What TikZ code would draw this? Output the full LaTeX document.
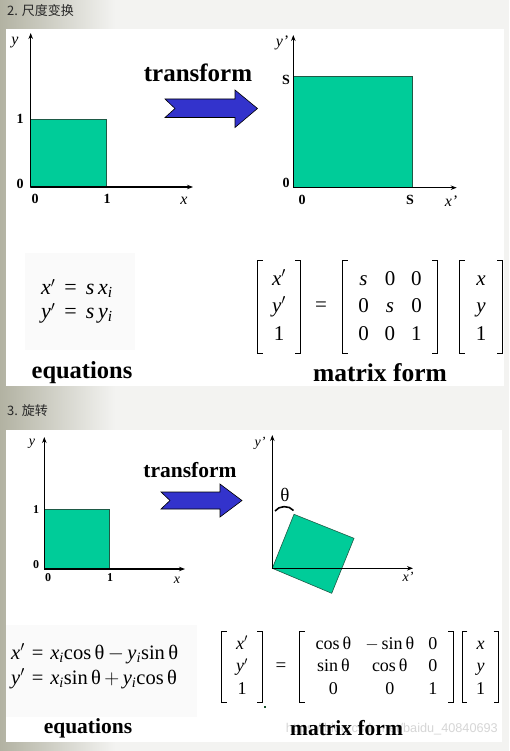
\documentclass[tikz,border=0pt]{standalone}
\usepackage{fontspec}
\setmainfont{Liberation Serif}
\newfontfamily\cjk{Noto Sans CJK SC}
\newfontfamily\wmfont{Liberation Sans}
\usetikzlibrary{arrows.meta}

\definecolor{pagebg}{RGB}{243,243,241}
\definecolor{stripcol}{RGB}{178,178,162}
\definecolor{boxbg}{RGB}{250,250,250}
\definecolor{sqfill}{RGB}{0,204,153}
\definecolor{sqline}{RGB}{30,90,70}
\definecolor{arrfill}{RGB}{51,51,204}
\definecolor{headcol}{RGB}{40,40,40}
\definecolor{wmcol}{RGB}{214,214,214}
\definecolor{dotcol}{RGB}{20,80,40}

\newcommand{\fs}[2]{\fontsize{#1}{#2}\selectfont}
\newcommand{\brackets}[1]{%
  \draw[brk] ([xshift=5pt]#1.north west) -- (#1.north west) -- (#1.south west) -- ([xshift=5pt]#1.south west);
  \draw[brk] ([xshift=-5pt]#1.north east) -- (#1.north east) -- (#1.south east) -- ([xshift=-5pt]#1.south east);}

\tikzset{
  axis/.style={line width=1.3pt, -{Stealth[length=6pt,width=4.5pt]}},
  unitsq/.style={fill=sqfill, draw=sqline, line width=0.6pt},
  bigarrow/.style={fill=arrfill, draw=black, line width=0.6pt},
  brk/.style={line width=0.7pt},
  ttl/.style={font=\cjk\fs{13}{15}, text=headcol, anchor=west, inner sep=0pt},
  numA/.style={font=\fs{14}{16}\bfseries, inner sep=0pt},
  varA/.style={font=\fs{16}{18}\itshape, inner sep=0pt},
  numB/.style={font=\fs{12}{14}\bfseries, inner sep=0pt},
  varB/.style={font=\fs{14}{16}\itshape, inner sep=0pt},
  caption/.style={font=\fs{24.5}{26}\bfseries, inner sep=0pt},
  captionB/.style={font=\fs{21.5}{24}\bfseries, inner sep=0pt},
  mA/.style={font=\fs{21}{27.5}, inner sep=0pt, minimum height=92},
  mB/.style={font=\fs{18}{22.5}, inner sep=0pt, minimum height=70}
}

\begin{document}
\begin{tikzpicture}[x=1pt,y=-1pt]
\useasboundingbox (0,0) rectangle (509,751);
% page
\fill[pagebg] (0,0) rectangle (509,751);
\shade[left color=stripcol, right color=pagebg] (0,0) rectangle (115,751);
\fill[white] (6,29) rectangle (504,385.5);
\fill[white] (6,430) rectangle (502,742);
\fill[boxbg] (25,253) rectangle (135,350);
\fill[boxbg] (6,625) rectangle (197,717);

\node[ttl] (ttlA) at (7,11) {2. 尺度变换};
\node[ttl] (ttlB) at (7,411) {3. 旋转};

% scaling, before
\coordinate (oA) at (30.7,187);
\fill[unitsq] (oA) rectangle (106,119);
\draw[axis] (oA) -- (30.7,33);
\draw[axis] (oA) -- (193,187);
\node[varA] (yA) at (15,43) {y};
\node[numA] (oneA) at (20,119) {1};
\node[numA] (zeroA) at (20,184) {0};
\node[numA] (zeroAx) at (35,199) {0};
\node[numA] (oneAx) at (107,199) {1};
\node[varA] (xA) at (184,201) {x};

\node[font=\fs{25}{27}\bfseries, inner sep=0pt] (trA) at (198,73) {transform};
\fill[bigarrow] (165,99) -- (235,99) -- (235,90) -- (257.5,108.5) -- (235,127.5)
  -- (235,117.5) -- (165,117.5) -- (175,108.5) -- cycle;

% scaling, after
\coordinate (oS) at (293.3,187.7);
\fill[unitsq] (oS) rectangle (412.7,76.7);
\draw[axis] (oS) -- (293.3,35);
\draw[axis] (oS) -- (456.7,187.7);
\node[varA] (yS) at (282,43) {y’};
\node[numA] (sS) at (286,80) {S};
\node[numA] (zeroS) at (286,183) {0};
\node[numA] (zeroSx) at (302,200) {0};
\node[numA] (sSx) at (410,200) {S};
\node[varA] (xS) at (451,201) {x’};

\node[anchor=west, font=\fs{22}{24}, inner sep=0pt] (eqA) at (41,302)
  {\begin{tabular}{@{}l@{\hspace{9pt}=\hspace{9pt}}l@{}}\textit{x}$'$ & \textit{s\,x}\textsubscript{\textit{i}}\\
   \textit{y}$'$ & \textit{s\,y}\textsubscript{\textit{i}}\end{tabular}};
\node[mA, minimum width=42] (vA) at (279,307)
  {\begin{tabular}{c}\textit{x}$'$\\ \textit{y}$'$\\ 1\end{tabular}};
\node[font=\fs{21}{22}, inner sep=0pt] (isA) at (321,307) {=};
\node[mA, minimum width=94] (MA) at (390,307)
  {\begin{tabular}{@{}c@{\hspace{16pt}}c@{\hspace{16pt}}c@{}}\textit{s} & 0 & 0\\ 0 & \textit{s} & 0\\ 0 & 0 & 1\end{tabular}};
\node[mA, minimum width=42] (wA) at (481,307)
  {\begin{tabular}{c}\textit{x}\\ \textit{y}\\ 1\end{tabular}};
\brackets{vA}
\brackets{MA}
\brackets{wA}
\node[caption] (capA) at (82,373) {equations};
\node[font=\fs{25.5}{27}\bfseries, inner sep=0pt] (capAm) at (380,373) {matrix form};

% rotation, before
\coordinate (oB) at (44.3,569);
\fill[unitsq] (oB) rectangle (109,509);
\draw[axis] (oB) -- (44.3,437);
\draw[axis] (oB) -- (185,569);
\node[varB] (yB) at (32,444) {y};
\node[numB] (oneB) at (36,510) {1};
\node[numB] (zeroB) at (36,565) {0};
\node[numB] (zeroBx) at (48,578) {0};
\node[numB] (oneBx) at (110,578) {1};
\node[varB] (xB) at (177,580) {x};

\node[font=\fs{21.5}{23}\bfseries, inner sep=0pt] (trB) at (190,470) {transform};
\fill[bigarrow] (161,492) -- (220,492) -- (220,484) -- (242,500.5) -- (220,517)
  -- (220,509) -- (161,509) -- (170,500.5) -- cycle;

% rotation, after
\coordinate (oR) at (272.3,568.3);
\fill[unitsq] (oR) -- (331.7,593.3) -- (354,538.3) -- (294,514.3) -- cycle;
\draw[axis] (oR) -- (272.3,435);
\draw[axis] (oR) -- (413,568.3);
\draw[line width=1.6pt] (275,511) .. controls (279,505.5) and (289,505) .. (293.5,510.5);
\node[font=\fs{19}{21}, inner sep=0pt] (thB) at (285,495) {θ};
\node[varB] (yR) at (260,443) {y’};
\node[varB] (xR) at (408,577) {x’};

\node[anchor=west, font=\fs{20.5}{25}, inner sep=0pt] (eqB) at (11,667)
  {\begin{tabular}{@{}l@{\hspace{7pt}=\hspace{7pt}}l@{}}\textit{x}$'$ & \textit{x}\textsubscript{\textit{i}}cos\,θ\,$-$\,\textit{y}\textsubscript{\textit{i}}sin\,θ\\
   \textit{y}$'$ & \textit{x}\textsubscript{\textit{i}}sin\,θ\,$+$\,\textit{y}\textsubscript{\textit{i}}cos\,θ\end{tabular}};
\node[mB, minimum width=40] (vB) at (242,667)
  {\begin{tabular}{c}\textit{x}$'$\\ \textit{y}$'$\\ 1\end{tabular}};
\node[font=\fs{19}{20}, inner sep=0pt] (isB) at (281,667) {=};
\node[mB, minimum width=153] (MB) at (376.5,667)
  {\begin{tabular}{@{}c@{\hspace{14pt}}c@{\hspace{14pt}}c@{}}cos\,θ & $-$\,sin\,θ & 0\\ sin\,θ & cos\,θ & 0\\ 0 & 0 & 1\end{tabular}};
\node[mB, minimum width=36] (wB) at (480.5,667)
  {\begin{tabular}{c}\textit{x}\\ \textit{y}\\ 1\end{tabular}};
\brackets{vB}
\brackets{MB}
\brackets{wB}
\fill[dotcol] (264,706) rectangle (266.2,708.2);
\node[captionB] (capB) at (88,728) {equations};
\node[font=\wmfont\fs{12.7}{14}, text=wmcol, anchor=east, inner sep=0pt] (wmB) at (498,729)
  {https://blog.csdn.net/baidu\_40840693};
\node[captionB] (capBm) at (346.5,728) {matrix form};
\end{tikzpicture}
\end{document}
